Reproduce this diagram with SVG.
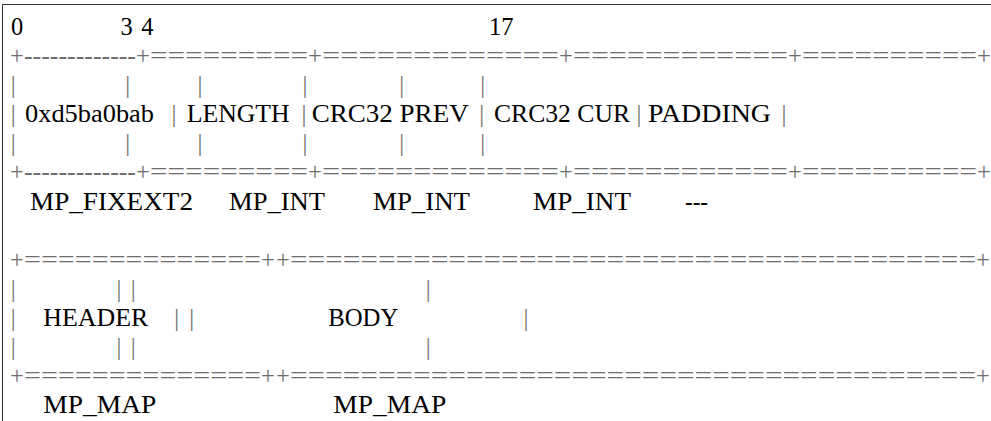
<svg xmlns="http://www.w3.org/2000/svg" width="991" height="421" viewBox="0 0 991 421" font-family="'Liberation Serif', 'Times New Roman', serif" font-size="24.5">
<style>
text{fill:#000}
.r{fill:#6e6e6e}
.c{text-anchor:middle}
</style>
<rect width="991" height="421" fill="#fff"/>
<path d="M2.5,421V4.5H991" fill="none" stroke="#333" stroke-width="1"/>
<g id="offsets">
<text x="11" y="35">0</text>
<text x="120.6" y="35">3</text>
<text x="141.2" y="35">4</text>
<text x="489" y="35">17</text>
</g>
<g id="header-table">
<g id="rule-top">
<text class="r c" x="17" y="64">+</text>
<text class="r" x="24" y="64" textLength="112" lengthAdjust="spacingAndGlyphs">-------------</text>
<text class="r c" x="143" y="64">+</text>
<text class="r" x="150" y="64" textLength="158" lengthAdjust="spacingAndGlyphs">=========</text>
<text class="r c" x="315" y="64">+</text>
<text class="r" x="322" y="64" textLength="237" lengthAdjust="spacingAndGlyphs">=============</text>
<text class="r c" x="566" y="64">+</text>
<text class="r" x="573" y="64" textLength="215" lengthAdjust="spacingAndGlyphs">============</text>
<text class="r c" x="795" y="64">+</text>
<text class="r" x="802" y="64" textLength="175" lengthAdjust="spacingAndGlyphs">==========</text>
<text class="r c" x="984" y="64">+</text>
</g>
<g id="pipes-top">
<text class="r c" x="13.3" y="93">|</text>
<text class="r c" x="127.7" y="93">|</text>
<text class="r c" x="200" y="93">|</text>
<text class="r c" x="305" y="93">|</text>
<text class="r c" x="401.7" y="93">|</text>
<text class="r c" x="482.7" y="93">|</text>
</g>
<g id="cells">
<text class="r c" x="13.3" y="122">|</text>
<text x="25" y="122" textLength="129" lengthAdjust="spacingAndGlyphs">0xd5ba0bab</text>
<text class="r c" x="174" y="122">|</text>
<text x="186.7" y="122" textLength="103" lengthAdjust="spacingAndGlyphs">LENGTH</text>
<text class="r c" x="304" y="122">|</text>
<text x="311.7" y="122" textLength="157" lengthAdjust="spacingAndGlyphs">CRC32 PREV</text>
<text class="r c" x="481.7" y="122">|</text>
<text x="494" y="122" textLength="136" lengthAdjust="spacingAndGlyphs">CRC32 CUR</text>
<text class="r c" x="639" y="122">|</text>
<text x="648" y="122" textLength="123" lengthAdjust="spacingAndGlyphs">PADDING</text>
<text class="r c" x="784" y="122">|</text>
</g>
<g id="pipes-bottom">
<text class="r c" x="13.3" y="151">|</text>
<text class="r c" x="127.7" y="151">|</text>
<text class="r c" x="200" y="151">|</text>
<text class="r c" x="305" y="151">|</text>
<text class="r c" x="401.7" y="151">|</text>
<text class="r c" x="482.7" y="151">|</text>
</g>
<g id="rule-bottom">
<text class="r c" x="17" y="180.4">+</text>
<text class="r" x="24" y="180.4" textLength="112" lengthAdjust="spacingAndGlyphs">-------------</text>
<text class="r c" x="143" y="180.4">+</text>
<text class="r" x="150" y="180.4" textLength="158" lengthAdjust="spacingAndGlyphs">=========</text>
<text class="r c" x="315" y="180.4">+</text>
<text class="r" x="322" y="180.4" textLength="237" lengthAdjust="spacingAndGlyphs">=============</text>
<text class="r c" x="566" y="180.4">+</text>
<text class="r" x="573" y="180.4" textLength="215" lengthAdjust="spacingAndGlyphs">============</text>
<text class="r c" x="795" y="180.4">+</text>
<text class="r" x="802" y="180.4" textLength="175" lengthAdjust="spacingAndGlyphs">==========</text>
<text class="r c" x="984" y="180.4">+</text>
</g>
</g>
<g id="header-types">
<text x="30" y="209.5" textLength="163" lengthAdjust="spacingAndGlyphs">MP_FIXEXT2</text>
<text x="229" y="209.5" textLength="96" lengthAdjust="spacingAndGlyphs">MP_INT</text>
<text x="373" y="209.5" textLength="97" lengthAdjust="spacingAndGlyphs">MP_INT</text>
<text x="533" y="209.5" textLength="98" lengthAdjust="spacingAndGlyphs">MP_INT</text>
<text x="685" y="209.5" textLength="23" lengthAdjust="spacingAndGlyphs">---</text>
</g>
<g id="map-table">
<g id="map-rule-top">
<text class="r c" x="17" y="267.6">+</text>
<text class="r" x="24" y="267.6" textLength="237" lengthAdjust="spacingAndGlyphs">==============</text>
<text class="r c" x="268" y="267.6">+</text>
<text class="r c" x="283" y="267.6">+</text>
<text class="r" x="290" y="267.6" textLength="686" lengthAdjust="spacingAndGlyphs">=======================================</text>
<text class="r c" x="983" y="267.6">+</text>
</g>
<g id="map-pipes-top">
<text class="r c" x="13.3" y="296.7">|</text>
<text class="r c" x="119" y="296.7">|</text>
<text class="r c" x="133.3" y="296.7">|</text>
<text class="r c" x="428.3" y="296.7">|</text>
</g>
<g id="map-cells">
<text class="r c" x="13.3" y="325.8">|</text>
<text x="43.3" y="325.8" textLength="105" lengthAdjust="spacingAndGlyphs">HEADER</text>
<text class="r c" x="176.7" y="325.8">|</text>
<text class="r c" x="191.7" y="325.8">|</text>
<text x="328.3" y="325.8" textLength="70" lengthAdjust="spacingAndGlyphs">BODY</text>
<text class="r c" x="526" y="325.8">|</text>
</g>
<g id="map-pipes-bottom">
<text class="r c" x="13.3" y="354.9">|</text>
<text class="r c" x="119" y="354.9">|</text>
<text class="r c" x="133.3" y="354.9">|</text>
<text class="r c" x="428.3" y="354.9">|</text>
</g>
<g id="map-rule-bottom">
<text class="r c" x="17" y="384">+</text>
<text class="r" x="24" y="384" textLength="237" lengthAdjust="spacingAndGlyphs">==============</text>
<text class="r c" x="268" y="384">+</text>
<text class="r c" x="283" y="384">+</text>
<text class="r" x="290" y="384" textLength="686" lengthAdjust="spacingAndGlyphs">=======================================</text>
<text class="r c" x="983" y="384">+</text>
</g>
</g>
<g id="map-types">
<text x="43.3" y="413" textLength="113" lengthAdjust="spacingAndGlyphs">MP_MAP</text>
<text x="333.3" y="413" textLength="113" lengthAdjust="spacingAndGlyphs">MP_MAP</text>
</g>
</svg>
